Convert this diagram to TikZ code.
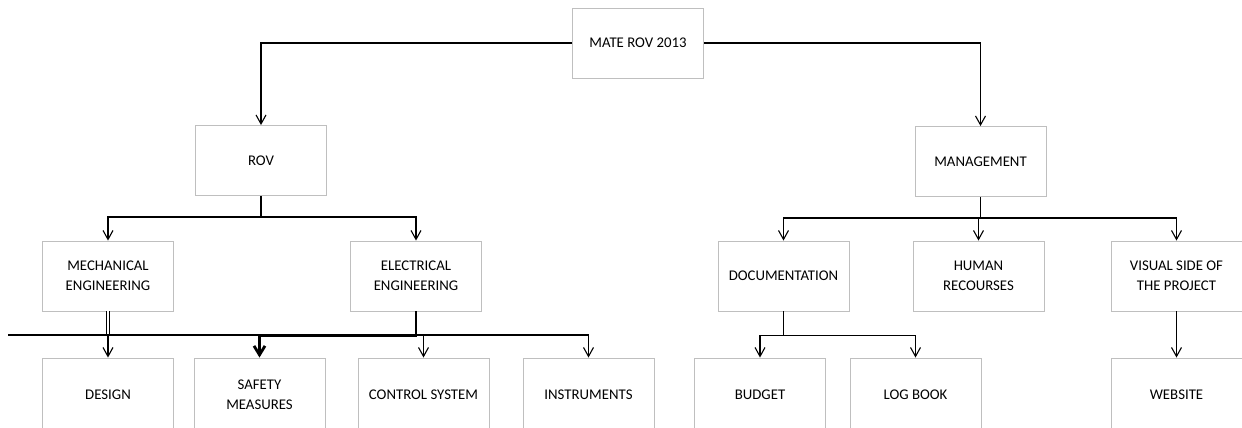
\documentclass[tikz,border=0pt]{standalone}
\usepackage{fontspec}
\setmainfont{Carlito}
\usetikzlibrary{arrows.meta}

\begin{document}
\begin{tikzpicture}[x=1pt,y=-1pt,
  box/.style={draw=gray!50,line width=0.9pt,minimum width=131pt,minimum height=70pt,
    inner sep=0pt,align=center,text=black,font=\fontsize{14.8}{20}\selectfont},
  lowbox/.style={box,minimum height=74pt},
  link/.style={line width=1.1pt},
  conn/.style={link,-{Straight Barb[length=9pt,width=10pt]}},
  boldconn/.style={line width=2.8pt,-{Straight Barb[length=9pt,width=11pt]}}]
\useasboundingbox (0,0) rectangle (1242,428);
\clip (0,0) rectangle (1242,428);

% Top levels
\node[box] (mate) at (638,43) {MATE ROV 2013};
\node[box] (rov) at (261,160.5) {ROV};
\node[box] (mgmt) at (980.5,161.5) {MANAGEMENT};

% Second row
\node[box] (mech) at (108,276) {MECHANICAL\\ENGINEERING};
\node[box] (elec) at (416,276) {ELECTRICAL\\ENGINEERING};
\node[box] (doc) at (783.5,276) {DOCUMENTATION};
\node[box] (hr) at (978.5,276) {HUMAN\\RECOURSES};
\node[box] (vis) at (1176.5,276) {VISUAL SIDE OF\\THE PROJECT};

% Third row (cut off by the page edge)
\node[lowbox] (design) at (108,395) {DESIGN};
\node[lowbox] (safety) at (259.5,395) {SAFETY\\MEASURES};
\node[lowbox] (ctrl) at (423.5,395) {CONTROL SYSTEM};
\node[lowbox] (instr) at (588.5,395) {INSTRUMENTS};
\node[lowbox] (budget) at (760,395) {BUDGET};
\node[lowbox] (logbook) at (915.5,395) {LOG BOOK};
\node[lowbox] (web) at (1176.5,395) {WEBSITE};

% Connectors from the top
\draw[conn] (mate.west) -| (rov.north);
\draw[conn] (mate.east) -| (mgmt.north);
\draw[link] (rov.south) -- ++(0,21) coordinate (rovj);
\draw[conn] (rovj) -| (mech.north);
\draw[conn] (rovj) -| (elec.north);
\draw[link] (mgmt.south) -- ++(0,21) coordinate (mgmtj);
\draw[conn] (mgmtj) -| (doc.north);
\draw[conn] (mgmtj) -| (hr.north);
\draw[conn] (mgmtj) -| (vis.north);

% Shared line under the engineering boxes
\draw[line width=0.9pt,double,double distance=1.6pt] (mech.south) -- ++(0,24);
\coordinate (busL) at (8,335);
\draw[conn] (busL) -| (instr.north);
\draw[conn] (busL -| design.north) -- (design.north);
\draw[conn] (busL -| ctrl.north) -- (ctrl.north);
\draw[boldconn] (elec.south) -- ++(0,24) -| (safety.north);

% Management branches
\draw[link] (doc.south) -- ++(0,24) coordinate (docj);
\draw[conn] (docj) -| (budget.north);
\draw[conn] (docj) -| (logbook.north);
\draw[conn] (vis.south) -- (web.north);
\end{tikzpicture}
\end{document}
